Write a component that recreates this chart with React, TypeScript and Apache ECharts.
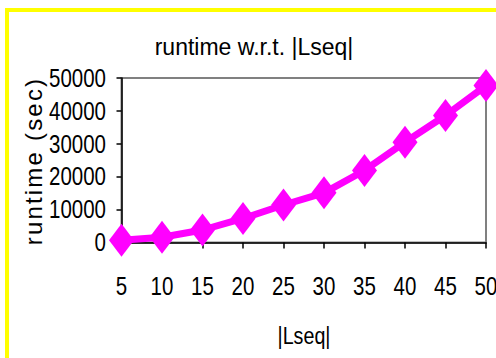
import React, { useEffect, useRef } from "react";
import * as echarts from "echarts";

const lseqLengths = ["5", "10", "15", "20", "25", "30", "35", "40", "45", "50"];
const runtimeSeconds = [700, 1600, 3800, 7300, 11400, 15100, 21900, 30500, 38600, 47700];
const yTickValues = [0, 10000, 20000, 30000, 40000, 50000];
const chartTitle = "runtime w.r.t. |Lseq|";
const xAxisTitle = "|Lseq|";
const yAxisTitle = "runtime (sec)";

const FONT = "'Liberation Sans', Arial, sans-serif";
const MAGENTA = "#FF00FF";
// condensed glyph width used for the axis texts
const NARROW = 0.82;

export default function App() {
  const ref = useRef<HTMLDivElement>(null);

  useEffect(() => {
    if (!ref.current) return;
    const chart = echarts.init(ref.current, undefined, { renderer: "svg" });
    chart.setOption({
      animation: false,
      backgroundColor: "#ffffff",
      grid: {
        left: 121.5,
        right: 10,
        top: 78,
        bottom: 115.5,
        show: true,
        borderColor: "#808080",
        borderWidth: 2,
        backgroundColor: "transparent",
      },
      xAxis: {
        type: "category",
        data: lseqLengths,
        boundaryGap: false,
        axisLine: { show: true, lineStyle: { color: "#000", width: 1.5 } },
        axisTick: { show: true, length: 6, interval: 0, lineStyle: { color: "#000", width: 1.5 } },
        axisLabel: { show: false, interval: 0 },
        splitLine: { show: false },
      },
      yAxis: {
        type: "value",
        min: yTickValues[0],
        max: yTickValues[yTickValues.length - 1],
        interval: yTickValues[1] - yTickValues[0],
        axisLine: { show: true, lineStyle: { color: "#000", width: 1.5 } },
        axisTick: { show: true, length: 5, lineStyle: { color: "#000", width: 1.5 } },
        axisLabel: { show: false },
        splitLine: { show: false },
      },
      series: [
        {
          type: "line",
          data: runtimeSeconds,
          symbol: "diamond",
          symbolSize: [25, 33],
          showSymbol: true,
          showAllSymbol: true,
          lineStyle: { color: MAGENTA, width: 7 },
          itemStyle: { color: MAGENTA },
          clip: false,
        },
      ],
    });

    // tick labels in a condensed face, placed through the axes' own scales
    const yLabels = yTickValues.map((v) => ({
      type: "text",
      x: 106,
      y: chart.convertToPixel({ yAxisIndex: 0 }, v) as number,
      scaleX: NARROW,
      style: {
        text: String(v),
        fontFamily: FONT,
        fontSize: 25,
        fill: "#000",
        textAlign: "right",
        textVerticalAlign: "middle",
      },
    }));
    const xLabels = lseqLengths.map((c) => ({
      type: "text",
      x: chart.convertToPixel({ xAxisIndex: 0 }, c) as number,
      y: 286,
      scaleX: NARROW,
      style: {
        text: c,
        fontFamily: FONT,
        fontSize: 25,
        fill: "#000",
        textAlign: "center",
        textVerticalAlign: "middle",
      },
    }));

    chart.setOption({
      graphic: [
        {
          type: "rect",
          z: -10,
          shape: { x: 7, y: 10, width: 600, height: 600 },
          style: { fill: "#ffffff", stroke: "#FFFF00", lineWidth: 4 },
          silent: true,
        },
        {
          type: "text",
          x: 254,
          y: 47,
          style: {
            text: chartTitle,
            fontFamily: FONT,
            fontSize: 23,
            fill: "#000",
            textAlign: "center",
            textVerticalAlign: "middle",
          },
        },
        {
          type: "text",
          x: 304,
          y: 336,
          scaleX: NARROW,
          style: {
            text: xAxisTitle,
            fontFamily: FONT,
            fontSize: 24,
            fill: "#000",
            textAlign: "center",
            textVerticalAlign: "middle",
          },
        },
        {
          type: "text",
          x: 33,
          y: 161,
          rotation: Math.PI / 2,
          style: {
            text: yAxisTitle,
            fontFamily: FONT,
            fontSize: 24,
            fill: "#000",
            textAlign: "center",
            textVerticalAlign: "middle",
          },
        },
        ...yLabels,
        ...xLabels,
      ],
    });

    // spread out the vertical axis title's letters
    ref.current.querySelectorAll("text").forEach((t) => {
      if (t.textContent === yAxisTitle) {
        t.setAttribute("letter-spacing", "2.2");
      }
    });

    return () => chart.dispose();
  }, []);

  return (
    <div
      ref={ref}
      style={{ position: "fixed", left: 0, top: 0, width: 496, height: 358 }}
    />
  );
}
